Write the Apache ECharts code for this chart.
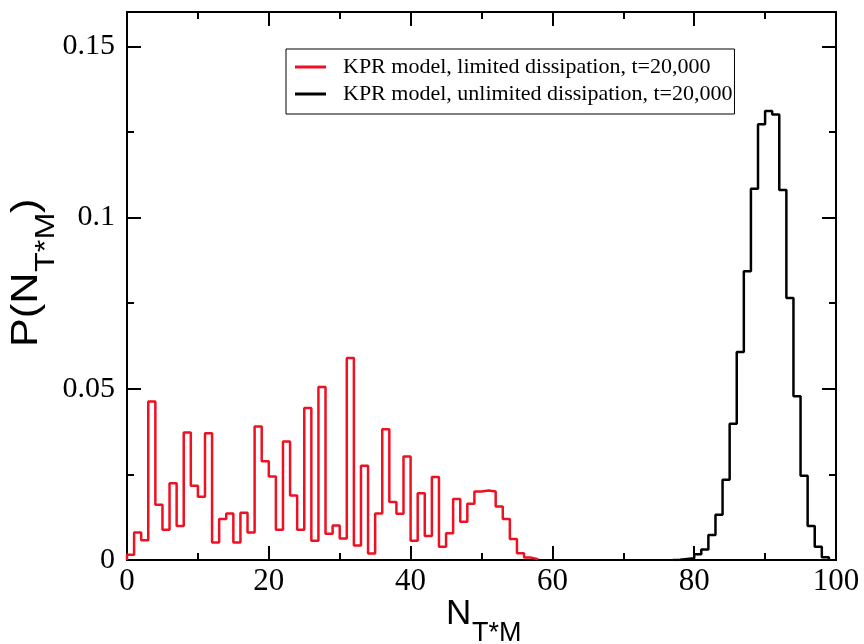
<!DOCTYPE html>
<html>
<head>
<meta charset="utf-8">
<script src="https://cdn.jsdelivr.net/npm/echarts@6/dist/echarts.min.js"></script>
<style>
  html, body { margin: 0; padding: 0; background: #ffffff; }
  #chart { width: 864px; height: 644px; }
</style>
</head>
<body>
<div id="chart"></div>
<script>
// Histogram of N_{T*M}: probability per unit-width bin, bin k spans [k, k+1].
const limitedStart = 0;
const limitedValues = [
  0.0015, 0.0080, 0.0058, 0.0463, 0.0161, 0.0088, 0.0224, 0.0099, 0.0372, 0.0217,
  0.0185, 0.0370, 0.0051, 0.0120, 0.0136, 0.0051, 0.0138, 0.0080, 0.0390, 0.0288,
  0.0244, 0.0088, 0.0346, 0.0188, 0.0088, 0.0444, 0.0056, 0.0505, 0.0077, 0.0101,
  0.0063, 0.0590, 0.0042, 0.0275, 0.0019, 0.0136, 0.0382, 0.0169, 0.0135, 0.0302,
  0.0056, 0.0195, 0.0070, 0.0242, 0.0039, 0.0078, 0.0178, 0.0112, 0.0164, 0.0200,
  0.0203, 0.0200, 0.0156, 0.0120, 0.0061, 0.0020, 0.0007, 0.0002
];
const unlimitedStart = 77;
const unlimitedValues = [
  0.0001, 0.0003, 0.0005, 0.0017, 0.0031, 0.0073, 0.0132, 0.0234, 0.0398, 0.0607,
  0.0843, 0.1084, 0.1272, 0.1311, 0.1301, 0.1080, 0.0765, 0.0478, 0.0246, 0.0099,
  0.0039, 0.0008
];
const seriesNames = [
  'KPR model, limited dissipation, t=20,000',
  'KPR model, unlimited dissipation, t=20,000'
];
const xTicks = [0, 20, 40, 60, 80, 100];
const yTicks = [0, 0.05, 0.1, 0.15];

// Step outline: rise from zero at the first edge, one point per bin, drop to zero at the last edge.
function stepData(start, values) {
  const pts = [[start, 0]];
  values.forEach((v, i) => pts.push([start + i, v]));
  pts.push([start + values.length, 0]);
  return pts;
}

const serif = 'Liberation Serif';
const sans = 'Liberation Sans';
const frame = { show: true, onZero: false, lineStyle: { color: '#000', width: 2 } };

function xAxis(position, labels) {
  return {
    type: 'value', position, min: xTicks[0], max: xTicks[xTicks.length - 1],
    interval: xTicks[1] - xTicks[0],
    axisLine: frame,
    axisTick: { show: true, inside: true, length: 14, lineStyle: { color: '#000', width: 2 } },
    minorTick: { show: true, splitNumber: 2, length: 7, lineStyle: { color: '#000', width: 2 } },
    splitLine: { show: false }, minorSplitLine: { show: false },
    axisLabel: { show: labels, color: '#000', fontFamily: serif, fontSize: 31, margin: 6 }
  };
}
function yAxis(position, interval, tickLen, labels) {
  return {
    type: 'value', position, min: 0, max: 0.16, interval,
    axisLine: frame,
    axisTick: { show: true, inside: true, length: tickLen, lineStyle: { color: '#000', width: 2 } },
    splitLine: { show: false },
    axisLabel: {
      show: labels, color: '#000', fontFamily: serif, fontSize: 30, margin: 12,
      showMaxLabel: false,
      formatter: v => (yTicks.some(t => Math.abs(t - v) < 1e-9) ? String(+v.toFixed(3)) : '')
    }
  };
}

const chart = echarts.init(document.getElementById('chart'), null, { renderer: 'canvas' });
chart.setOption({
  animation: false,
  backgroundColor: '#ffffff',
  grid: { left: 127, right: 28, top: 12, bottom: 84, containLabel: false },
  xAxis: [xAxis('bottom', true), xAxis('top', false)],
  yAxis: [
    yAxis('left', 0.05, 14, true),
    yAxis('left', 0.025, 7, false),
    yAxis('right', 0.05, 14, false),
    yAxis('right', 0.025, 7, false)
  ],
  legend: {
    orient: 'vertical', left: 286, top: 49,
    padding: [7, 2, 9, 9], itemGap: 5,
    icon: 'rect', itemWidth: 31, itemHeight: 3,
    backgroundColor: '#ffffff', borderColor: '#000', borderWidth: 1,
    textStyle: { color: '#000', fontFamily: serif, fontSize: 22, lineHeight: 22, padding: [0, 0, 0, 12] },
    data: seriesNames
  },
  series: [
    {
      name: seriesNames[0], type: 'line', step: 'end', xAxisIndex: 0, yAxisIndex: 0,
      symbol: 'none', showSymbol: false,
      lineStyle: { color: '#ee1122', width: 2.5 }, itemStyle: { color: '#ee1122' },
      data: stepData(limitedStart, limitedValues)
    },
    {
      name: seriesNames[1], type: 'line', step: 'end', xAxisIndex: 0, yAxisIndex: 0,
      symbol: 'none', showSymbol: false,
      lineStyle: { color: '#000000', width: 2.5 }, itemStyle: { color: '#000000' },
      data: stepData(unlimitedStart, unlimitedValues)
    }
  ],
  graphic: [
    // x-axis title N_{T*M}
    { type: 'text', x: 446, y: 614, style: { text: 'N', fontFamily: sans, fontSize: 35, fill: '#000', align: 'left', verticalAlign: 'middle' } },
    { type: 'text', x: 472, y: 634, style: { text: 'T*M', fontFamily: sans, fontSize: 27, fill: '#000', align: 'left', verticalAlign: 'middle' } },
    // y-axis title P(N_{T*M}), read bottom to top, drawn slightly elongated
    { type: 'text', x: 27, y: 347, rotation: Math.PI / 2, scaleX: 1.2, style: { text: 'P(N', fontFamily: sans, fontSize: 36, fill: '#000', align: 'left', verticalAlign: 'middle' } },
    { type: 'text', x: 47, y: 272, rotation: Math.PI / 2, scaleX: 1.2, style: { text: 'T*M', fontFamily: sans, fontSize: 27, fill: '#000', align: 'left', verticalAlign: 'middle' } },
    { type: 'text', x: 27, y: 213, rotation: Math.PI / 2, scaleX: 1.2, style: { text: ')', fontFamily: sans, fontSize: 36, fill: '#000', align: 'left', verticalAlign: 'middle' } }
  ]
});
</script>
</body>
</html>
